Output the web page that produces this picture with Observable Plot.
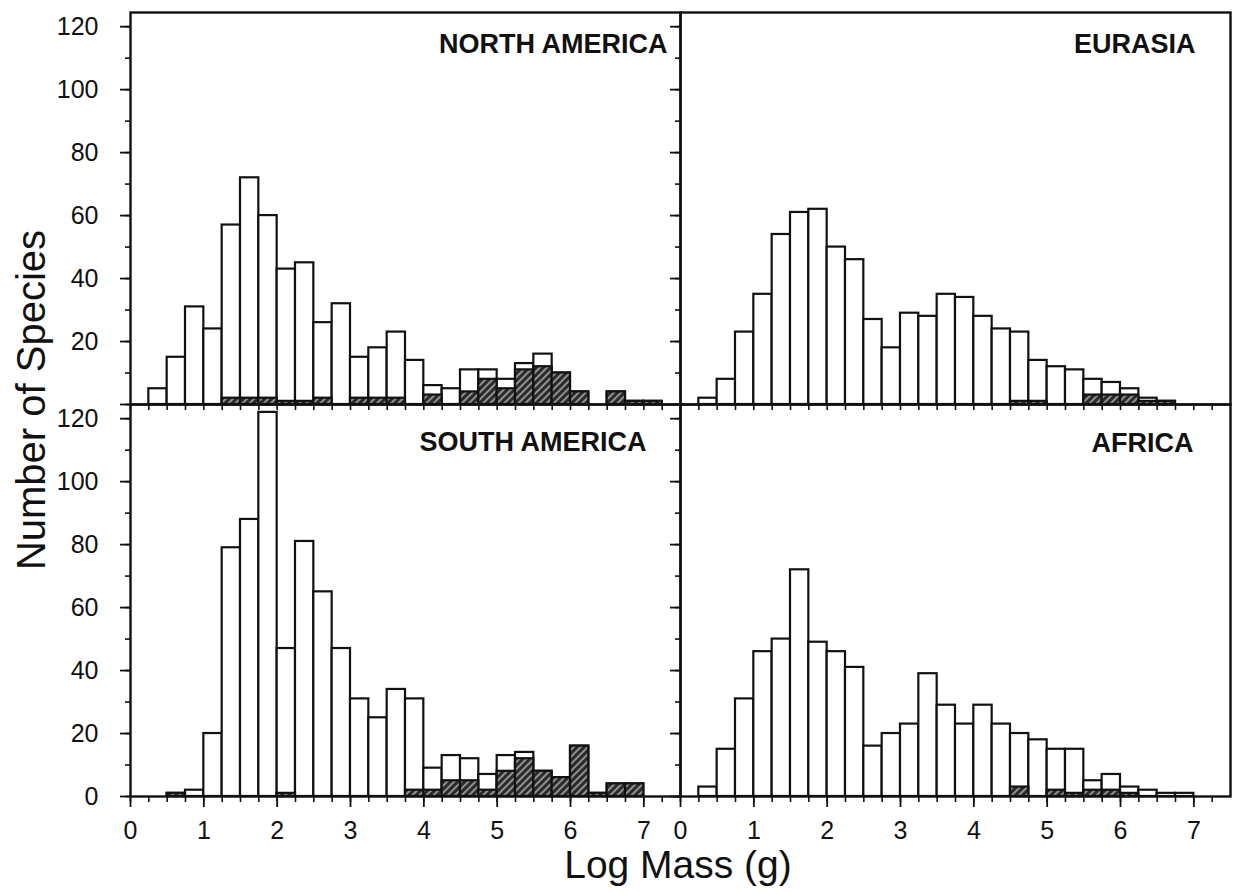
<!DOCTYPE html>
<html><head><meta charset="utf-8">
<script src="https://cdn.jsdelivr.net/npm/d3@7"></script>
<script src="https://cdn.jsdelivr.net/npm/@observablehq/plot@0.6"></script>
<style>
body{margin:0;background:#fff;font-family:"Liberation Sans",Arial,sans-serif;}
#wrap{position:relative;width:1235px;height:894px;overflow:hidden;}
#ylab{position:absolute;left:31px;top:400px;transform:translate(-50%,-50%) rotate(-90deg);font-size:40px;white-space:nowrap;color:#111;}
#xlab{position:absolute;left:678px;top:865px;transform:translate(-50%,-50%);font-size:39px;white-space:nowrap;color:#111;}
</style></head><body>
<div id="wrap"><div id="chart"></div><div id="ylab">Number of Species</div><div id="xlab">Log Mass (g)</div></div>
<script>
// Bin starts (Log Mass, g), bin width 0.25
const binStart = [0,0.25,0.5,0.75,1,1.25,1.5,1.75,2,2.25,2.5,2.75,3,3.25,3.5,3.75,4,4.25,4.5,4.75,5,5.25,5.5,5.75,6,6.25,6.5,6.75,7,7.25];
const binWidth = 0.25;

// North America
const naTotal   = [0,5,15,31,24,57,72,60,43,45,26,32,15,18,23,14,6,5,11,11,8,13,16,10,4,0,4,1,1,0];
const naHatched = [0,0,0,0,0,2,2,2,1,1,2,0,2,2,2,0,3,0,4,8,5,11,12,10,4,0,4,1,1,0];
// Eurasia
const euTotal   = [0,2,8,23,35,54,61,62,50,46,27,18,29,28,35,34,28,24,23,14,12,11,8,7,5,2,1,0,0,0];
const euHatched = [0,0,0,0,0,0,0,0,0,0,0,0,0,0,0,0,0,0,1,1,0,0,3,3,3,1,1,0,0,0];
// South America
const saTotal   = [0,0,1,2,20,79,88,122,47,81,65,47,31,25,34,31,9,13,12,7,13,14,8,6,16,1,4,4,0,0];
const saHatched = [0,0,1,0,0,0,0,0,1,0,0,0,0,0,0,2,2,5,5,2,8,12,8,6,16,1,4,4,0,0];
// Africa
const afTotal   = [0,3,15,31,46,50,72,49,46,41,16,20,23,39,29,23,29,23,20,18,15,15,5,7,3,2,1,1,0,0];
const afHatched = [0,0,0,0,0,0,0,0,0,0,0,0,0,0,0,0,0,0,3,0,2,1,2,2,1,0,0,0,0,0];

const panelNames = ["NORTH AMERICA","EURASIA","SOUTH AMERICA","AFRICA"];
const panelCols  = ["L","R","L","R"];
const panelRows  = ["T","T","B","B"];
const totals  = [naTotal, euTotal, saTotal, afTotal];
const hatched = [naHatched, euHatched, saHatched, afHatched];

const xMajor = [0,1,2,3,4,5,6,7];
const xMinor = [0,0.25,0.5,0.75,1,1.25,1.5,1.75,2,2.25,2.5,2.75,3,3.25,3.5,3.75,4,4.25,4.5,4.75,5,5.25,5.5,5.75,6,6.25,6.5,6.75,7,7.25];
const yMajorTop    = [20,40,60,80,100,120];
const yMajorBottom = [0,20,40,60,80,100,120];
const yMinor = [0,10,20,30,40,50,60,70,80,90,100,110,120];

const rows = [];
panelNames.forEach((name, p) => {
  binStart.forEach((b, i) => {
    rows.push({col: panelCols[p], row: panelRows[p], x1: b, x2: b + binWidth, total: totals[p][i], hatched: hatched[p][i]});
  });
});
const labels = panelNames.map((name, p) => ({col: panelCols[p], row: panelRows[p], name}));
const yTickLabels = [
  ...yMajorTop.map(v => ({v, col: "L", row: "T"})),
  ...yMajorBottom.map(v => ({v, col: "L", row: "B"}))
];

const font = '"Liberation Sans", Arial, sans-serif';
const tickFont = '"Liberation Sans Narrow", "Liberation Sans", Arial, sans-serif';
const labelMark = (idx, dx, dy) => Plot.text([labels[idx]], {
  fx: "col", fy: "row", text: "name", frameAnchor: "top-right", textAnchor: "end", lineAnchor: "top",
  dx, dy, fontWeight: "bold", fontSize: 27, fill: "#111"
});

const chart = Plot.plot({
  width: 1235, height: 850,
  marginLeft: 130, marginRight: 5, marginTop: 11, marginBottom: 54,
  style: {fontFamily: font, fontSize: "25px", color: "#111", background: "#fff", overflow: "visible"},
  fx: {domain: ["L","R"], padding: 0, axis: null},
  fy: {domain: ["T","B"], padding: 0, axis: null},
  x: {domain: [0, 7.5]},
  y: {domain: [0, 124.5]},
  marks: [
    Plot.rect(rows.filter(d => d.total > 0), {x1: "x1", x2: "x2", y1: 0, y2: "total", fx: "col", fy: "row", fill: "white", stroke: "#111", strokeWidth: 2.2}),
    Plot.rect(rows.filter(d => d.hatched > 0), {x1: "x1", x2: "x2", y1: 0, y2: "hatched", fx: "col", fy: "row", fill: "url(#hatch)", stroke: "#111", strokeWidth: 2.2}),
    Plot.frame({stroke: "#111", strokeWidth: 2.4}),
    Plot.axisX({ticks: xMinor, tickSize: 6, text: null, label: null, facetAnchor: null, strokeWidth: 1.6}),
    Plot.axisX({ticks: xMajor, tickSize: 11, tickPadding: 14, label: null, facetAnchor: "bottom", strokeWidth: 1.8, fontSize: 25, fontFamily: tickFont}),
    Plot.axisY({ticks: yMinor, tickSize: 5, text: null, label: null, facetAnchor: null, strokeWidth: 1.6}),
    Plot.axisY({ticks: yMajorBottom, tickSize: 10, text: null, label: null, facetAnchor: null, strokeWidth: 1.8}),
    Plot.text(yTickLabels, {y: "v", fx: "col", fy: "row", text: d => String(d.v), frameAnchor: "left", textAnchor: "end", dx: -32, fontSize: 25, fontFamily: tickFont, fill: "#111"}),
    labelMark(0, -13, 21),
    labelMark(1, -35, 21),
    labelMark(2, -34, 27),
    labelMark(3, -37, 28)
  ]
});

const ns = "http://www.w3.org/2000/svg";
const defs = document.createElementNS(ns, "defs");
defs.innerHTML = '<pattern id="hatch" patternUnits="userSpaceOnUse" width="5" height="5" patternTransform="rotate(45)">' +
  '<rect width="5" height="5" fill="#2a2a2a"/><line x1="1" y1="0" x2="1" y2="5" stroke="#c8c8c8" stroke-width="1.3"/></pattern>';
chart.insertBefore(defs, chart.firstChild);
document.getElementById("chart").appendChild(chart);
</script>
</body></html>
